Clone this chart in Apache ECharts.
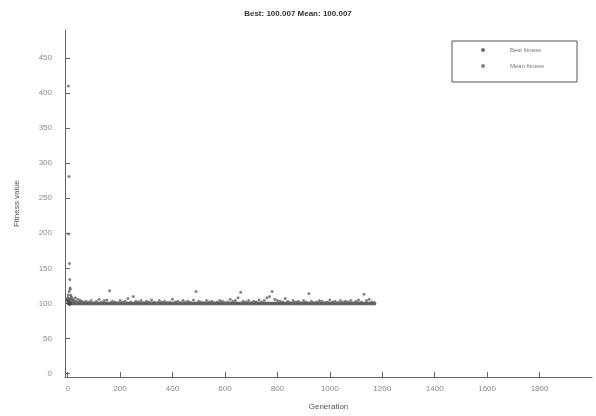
<!DOCTYPE html>
<html><head><meta charset="utf-8">
<script src="https://cdn.jsdelivr.net/npm/echarts@6/dist/echarts.min.js"></script>
<style>html,body{margin:0;padding:0;background:#fff}#c{width:596px;height:416px}</style>
</head><body><div id="c"></div>
<script>
var titleText = "Best: 100.007 Mean: 100.007";
var xTicks = [0,200,400,600,800,1000,1200,1400,1600,1800];
var yTicks = [0,50,100,150,200,250,300,350,400,450];

var meanGen = [1,2,3,4,5,6,7,8,9,10,11,12,13,14,15,16,18,20,22,25,28,30,33,36,40,44,48,52,56,60,
70,80,90,100,110,120,130,140,150,160,
170,180,190,200,210,220,230,240,250,260,
270,280,290,300,310,320,330,340,350,360,
370,380,390,400,410,420,430,440,450,460,
470,480,490,500,510,520,530,540,550,560,
570,580,590,600,610,620,630,640,650,660,
670,680,690,700,710,720,730,740,750,760,
770,780,790,800,810,820,830,840,850,860,
870,880,890,900,910,920,930,940,950,960,
970,980,990,1000,1010,1020,1030,1040,1050,1060,
1070,1080,1090,1100,1110,1120,1130,1140,1150,1160,
1170];
var meanVal = [108,112,410,199,281,117,157,134,122,120,112,108,106,110,106,104,107,105,103,104,102,108,103,101,106,102,104,103,101,102,
103,102,104,101,103,106,102,104,105,118,
103,102,101,104,102,103,107,102,110,103,
102,104,101,103,102,105,102,101,104,102,
103,101,102,106,102,103,101,104,102,103,
101,105,117,103,102,101,104,102,103,101,
102,104,103,101,102,106,103,104,108,116,
103,102,104,101,103,102,105,102,104,108,
110,117,106,104,103,102,107,103,101,104,
102,103,101,104,102,114,103,101,102,104,
103,101,102,105,102,103,101,104,102,103,
102,104,101,103,105,102,113,104,106,102,
101];

var bestGen = [1,2,3,4,5,6,7,8,9,10,
20,30,40,50,60,70,80,90,100,110,120,130,140,150,160,170,180,190,200,
210,220,230,240,250,260,270,280,290,300,310,320,330,340,350,360,370,380,390,400,
410,420,430,440,450,460,470,480,490,500,510,520,530,540,550,560,570,580,590,600,
610,620,630,640,650,660,670,680,690,700,710,720,730,740,750,760,770,780,790,800,
810,820,830,840,850,860,870,880,890,900,910,920,930,940,950,960,970,980,990,1000,
1010,1020,1030,1040,1050,1060,1070,1080,1090,1100,1110,1120,1130,1140,1150,1160,1170];
var bestVal = [106,104,102,101,100,100,100,100,100,100,
100,100,100,100,100,100,100,100,100,100,100,100,100,100,100,100,100,100,100,
100,100,100,100,100,100,100,100,100,100,100,100,100,100,100,100,100,100,100,100,
100,100,100,100,100,100,100,100,100,100,100,100,100,100,100,100,100,100,100,100,
100,100,100,100,100,100,100,100,100,100,100,100,100,100,100,100,100,100,100,100,
100,100,100,100,100,100,100,100,100,100,100,100,100,100,100,100,100,100,100,100,
100,100,100,100,100,100,100,100,100,100,100,100,100,100,100,100,100];

function pairs(g, v){ return g.map(function(x,i){ return [x, v[i]]; }); }

var chart = echarts.init(document.getElementById('c'), null, {renderer:'canvas'});
var axisCol = '#666';
var font = 'Liberation Sans, Arial';
chart.setOption({
  animation:false,
  backgroundColor:'#fff',
  title:{text:titleText, left:'center', top:5,
    textStyle:{fontFamily:font, fontSize:8, fontWeight:'bold', color:'#333'}},
  legend:{
    orient:'vertical', left:452, top:41,
    borderColor:'#555', borderWidth:1, padding:[6,33,13,29],
    itemWidth:4, itemHeight:4, itemGap:10,
    textStyle:{fontFamily:font, fontSize:6, color:'#777', padding:[0,0,0,20]},
    data:[{name:'Best fitness', icon:'circle'},{name:'Mean fitness', icon:'circle'}]
  },
  grid:{left:65, top:30, right:4, bottom:39, containLabel:false},
  xAxis:{
    type:'value', min:-10, max:2000,
    name:'Generation', nameLocation:'middle', nameGap:26,
    nameTextStyle:{fontFamily:font, fontSize:8, color:'#555'},
    axisLine:{show:true, onZero:false, lineStyle:{color:axisCol, width:1}},
    axisTick:{show:true, inside:true, length:5, customValues:xTicks, lineStyle:{color:axisCol}},
    axisLabel:{customValues:xTicks, margin:8, fontFamily:font, fontSize:8, color:'#888',
      formatter:function(v){ return String(v); }},
    splitLine:{show:false}
  },
  yAxis:{
    type:'value', min:-5, max:490,
    name:'Fitness value', nameLocation:'middle', nameGap:44, nameRotate:90,
    nameTextStyle:{fontFamily:font, fontSize:8, color:'#555'},
    axisLine:{show:true, onZero:false, lineStyle:{color:axisCol, width:1}},
    axisTick:{show:true, inside:true, length:5, customValues:yTicks, lineStyle:{color:axisCol}},
    axisLabel:{customValues:yTicks, margin:13, fontFamily:font, fontSize:8, color:'#888',
      formatter:function(v){ return String(v); }},
    splitLine:{show:false}
  },
  series:[
    {name:'Best fitness', type:'scatter', symbol:'circle', symbolSize:4,
     itemStyle:{color:'#4a4a4a'}, data:pairs(bestGen,bestVal)},
    {name:'Mean fitness', type:'scatter', symbol:'circle', symbolSize:3,
     itemStyle:{color:'#666'}, data:pairs(meanGen,meanVal)}
  ]
});
</script></body></html>
